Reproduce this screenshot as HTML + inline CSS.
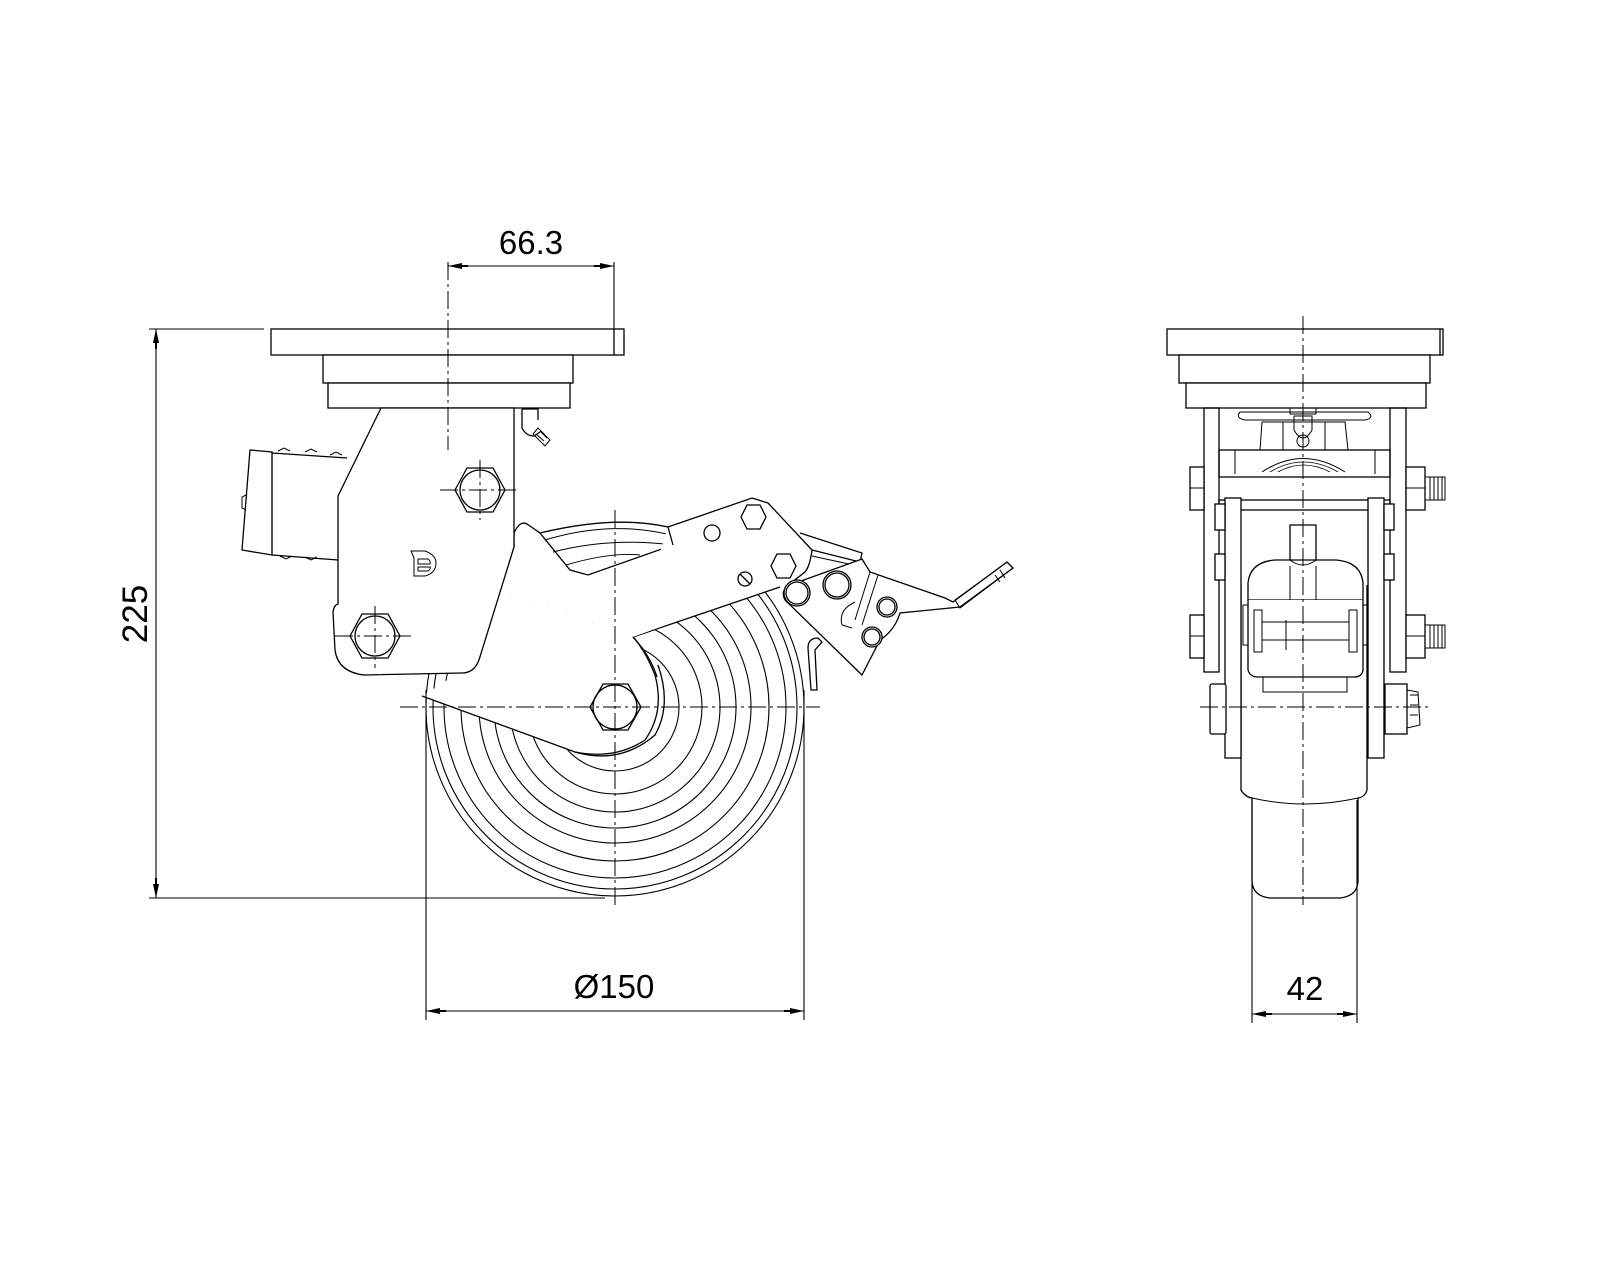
<!DOCTYPE html>
<html><head><meta charset="utf-8"><style>
html,body{margin:0;padding:0;background:#fff}
svg{display:block}
text{font-family:"Liberation Sans",sans-serif;fill:#000}
</style></head><body>
<svg width="1600" height="1280" viewBox="0 0 1600 1280" xmlns="http://www.w3.org/2000/svg">
<defs>
<marker id="ar" viewBox="0 0 20 8" refX="20" refY="4" markerWidth="20" markerHeight="8" orient="auto" markerUnits="userSpaceOnUse">
<path d="M0,3 L6,3 L6,1 L20,4 L6,7 L6,5 L0,5 Z" fill="#000"/></marker>
</defs>
<g fill="none" stroke="#000" stroke-width="1.3">

<g stroke-width="1.1">
<circle cx="615" cy="707" r="189"/><circle cx="615" cy="707" r="182"/><circle cx="615" cy="707" r="171"/>
<circle cx="615" cy="707" r="154"/><circle cx="615" cy="707" r="136"/><circle cx="615" cy="707" r="121"/>
<circle cx="615" cy="707" r="105"/><circle cx="615" cy="707" r="87"/><circle cx="615" cy="707" r="64"/>
</g>
<path d="M514,547 L500,590 L633,637 L780,587 L820,560 L800,470 L700,480 L514,510 Z" fill="#fff" stroke="none"/>
<path d="M479,660 L500,590 L633,637 L652,665 L662,705 L650,740 L615,757 L575,752 L422,696 Z" fill="#fff" stroke="none"/>
<path d="M422,696 L575,752 Q615,760 645,740 Q665,712 655,675 Q645,650 633,637"/>
<path d="M575,752 Q620,765 655,735 Q672,705 658,665"/>
<path d="M633,637 L780,587"/>
<path d="M633,637 Q650,655 657,677"/>
<path d="M514,547 L514,533 Q520,520 527,524 L540,533 L570,570 L588,575 L673,545 L668,527 Q615,515 540,533" fill="#fff"/>
<path d="M545,540 Q610,520 671,535 M553,552 Q610,537 673,545 M566,565 Q610,552 640,555" stroke-width="1"/>

<rect x="271" y="329" width="353" height="26" fill="#fff"/>
<line x1="614" y1="329" x2="614" y2="355"/>
<rect x="323" y="355" width="250" height="28" fill="#fff"/>
<rect x="328" y="383" width="242" height="25" fill="#fff"/>
<path d="M522,409 L522,428 Q526,436 534,436 L540,432 M522,409 L538,409 L538,420"/>
<path d="M538,428 L550,440 L545,446 L533,434 Z M540,431 L547,438 M536,434 L544,441" stroke-width="1"/>

<path d="M250,450 L272,452 L272,555 L242,550 Z" fill="#fff"/>
<path d="M272,453 L347,458 M272,555 L338,560"/>
<path d="M246,495 L242,497 L242,508 L246,510" stroke-width="1"/>
<path d="M278,451 l6,-3 l6,3 M305,452 l6,-3 l6,3 M330,455 l6,-3 l6,3 M280,556 l6,3 l6,-3 M305,557 l6,3 l6,-3" stroke-width="1"/>

<path d="M381,408 L514,408 L514,527 L514,547 L479,660 Q474,673 462,673 L364,675 Q338,672 335,650 L333,612 Q334,605 338,604 L338,496 Z" fill="#fff"/>
<polygon points="455,490 467,468 493,468 505,490 493,512 467,512" fill="#fff"/>
<circle cx="480" cy="490" r="20"/>
<polygon points="350,636 362,614 388,614 400,636 388,658 362,658" fill="#fff"/>
<circle cx="375" cy="636" r="20"/>
<path d="M411,551 L425,551 Q436,555 436,563 Q436,573 425,576 L414,576 L414,558 Z" stroke-width="1"/>
<path d="M418,559 L428,559 Q431,561 430,564 L418,564 Z M418,567 L430,567 Q431,569 428,571 L418,571 Z" stroke-width="1"/>

<polygon points="590,707 603,684 628,684 641,707 628,730 603,730" fill="#fff"/>
<circle cx="615" cy="707" r="22"/>

<path d="M668,527 L752,498 L768,503 L812,550 L807,572 L790,580 L633,637 Z" fill="#fff" stroke="none"/>
<path d="M668,527 L752,498 L768,503 L812,550 Q810,566 805,572 L792,582"/>
<path d="M673,545 L668,527"/>
<circle cx="712" cy="533" r="8"/>
<polygon points="741,517 747,505 760,505 766,517 760,529 747,529"/>
<polygon points="771,566 777,554 790,554 796,566 790,578 777,578"/>
<circle cx="745" cy="579" r="7"/><line x1="740" y1="574" x2="750" y2="584"/>
<path d="M800,533 L862,553 L860,562 L812,550" />
<path d="M812,556 L858,566" stroke-width="1"/>
<path d="M862,559 L870,572 L945,598 L953,602 L1007,562 L1013,568 L960,607 L930,610 L900,613 Q895,630 880,640 L862,675 L785,600 Q780,590 790,585 Z" fill="#fff"/>
<path d="M1007,562 L1013,568 L960,608 L955,600 Z" stroke-width="1"/>
<path d="M1000,570 L1005,578 M995,575 L1000,582" stroke-width="1"/>
<path d="M870,572 L855,620 M878,575 L862,625" stroke-width="1"/>
<path d="M855,602 Q838,610 842,625 L852,628" stroke-width="1"/>
<circle cx="797" cy="593" r="13" fill="#fff"/><circle cx="797" cy="593" r="11"/>
<circle cx="837" cy="585" r="14" fill="#fff"/><circle cx="837" cy="585" r="12"/>
<circle cx="887" cy="607" r="10" fill="#fff"/><circle cx="887" cy="607" r="8"/>
<circle cx="872" cy="637" r="10" fill="#fff"/><circle cx="872" cy="637" r="8"/>
<path d="M811,690 L808,648 Q808,638 818,638 L822,642 L815,650 L817,690 Z" fill="#fff"/>

<g stroke-width="1" stroke-dasharray="18,4,3,4">
<line x1="448" y1="262" x2="448" y2="450"/>
<line x1="615" y1="510" x2="615" y2="905"/>
<line x1="400" y1="707" x2="820" y2="707"/>
<line x1="440" y1="490" x2="520" y2="490"/>
<line x1="480" y1="460" x2="480" y2="520"/>
<line x1="335" y1="636" x2="412" y2="636"/>
<line x1="375" y1="606" x2="375" y2="668"/>
</g>

<g stroke-width="1.1">
<line x1="448" y1="262" x2="448" y2="270"/>
<line x1="614" y1="262" x2="614" y2="330"/>
<line x1="530" y1="266" x2="448" y2="266" marker-end="url(#ar)"/>
<line x1="530" y1="266" x2="614" y2="266" marker-end="url(#ar)"/>
<line x1="149" y1="329" x2="264" y2="329"/>
<line x1="149" y1="898" x2="605" y2="898"/>
<line x1="156" y1="614" x2="156" y2="329" marker-end="url(#ar)"/>
<line x1="156" y1="614" x2="156" y2="898" marker-end="url(#ar)"/>
<line x1="426" y1="690" x2="426" y2="1020"/>
<line x1="804" y1="690" x2="804" y2="1020"/>
<line x1="615" y1="1011" x2="426" y2="1011" marker-end="url(#ar)"/>
<line x1="615" y1="1011" x2="804" y2="1011" marker-end="url(#ar)"/>
</g>

<rect x="1167" y="329" width="276" height="26" fill="#fff"/>
<line x1="1440" y1="329" x2="1440" y2="355"/>
<rect x="1179" y="355" width="251" height="28" fill="#fff"/>
<rect x="1186" y="383" width="240" height="25" fill="#fff"/>
<path d="M1241,585 L1241,790 Q1245,797 1252,798 L1252,880 Q1252,896 1270,898 L1340,898 Q1358,896 1358,880 L1358,798 Q1365,797 1367,790 L1367,585"/>
<path d="M1252,798 Q1305,810 1358,798" stroke-width="1"/>
<rect x="1204" y="408" width="15" height="264"/>
<rect x="1390" y="408" width="16" height="264"/>
<path d="M1240,412 Q1235,418 1245,420 L1365,420 Q1375,418 1368,412 Z" stroke-width="1"/>
<path d="M1290,408 L1316,408 L1316,414 L1290,414 Z" stroke-width="1"/>
<path d="M1262,422 L1345,422 L1348,450 L1260,450 Z" stroke-width="1"/>
<path d="M1283,422 L1283,450 M1325,422 L1325,450" stroke-width="1"/>
<path d="M1294,416 L1312,416 L1312,430 Q1303,446 1294,430 Z" stroke-width="1"/>
<circle cx="1303" cy="441" r="6" stroke-width="1"/>
<rect x="1219" y="450" width="171" height="27"/>
<line x1="1235" y1="450" x2="1235" y2="474" stroke-width="1"/><line x1="1375" y1="450" x2="1375" y2="474" stroke-width="1"/>
<path d="M1262,472 Q1303,445 1345,472" stroke-width="1"/>
<path d="M1270,472 Q1303,452 1338,472 M1278,472 Q1303,458 1330,472" stroke-width="0.8"/>
<rect x="1219" y="500" width="171" height="10"/>
<rect x="1190" y="467" width="14" height="43" fill="#fff"/><line x1="1190" y1="488" x2="1204" y2="488" stroke-width="1"/>
<rect x="1190" y="615" width="14" height="43" fill="#fff"/><line x1="1190" y1="636" x2="1204" y2="636" stroke-width="1"/>
<rect x="1406" y="467" width="19" height="43" fill="#fff"/><line x1="1406" y1="488" x2="1425" y2="488" stroke-width="1"/>
<rect x="1406" y="615" width="19" height="43" fill="#fff"/><line x1="1406" y1="636" x2="1425" y2="636" stroke-width="1"/>
<path d="M1425,477 L1445,477 L1445,500 L1425,500 M1430,477 L1430,500 M1434,477 L1434,500 M1438,477 L1438,500 M1442,477 L1442,500" stroke-width="1"/>
<path d="M1425,625 L1445,625 L1445,648 L1425,648 M1430,625 L1430,648 M1434,625 L1434,648 M1438,625 L1438,648 M1442,625 L1442,648" stroke-width="1"/>
<rect x="1225" y="498" width="16" height="260" fill="#fff"/>
<rect x="1368" y="498" width="16" height="260" fill="#fff"/>
<rect x="1215" y="504" width="10" height="26" fill="#fff"/><rect x="1215" y="554" width="10" height="26" fill="#fff"/>
<rect x="1384" y="504" width="10" height="26" fill="#fff"/><rect x="1384" y="554" width="10" height="26" fill="#fff"/>
<path d="M1290,525 L1316,525 L1316,600 Q1303,610 1290,600 Z" fill="#fff"/>
<path d="M1248,583 Q1250,562 1275,560 L1336,560 Q1361,562 1363,583 L1363,600 L1248,600 Z" fill="#fff"/>
<path d="M1290,560 Q1303,570 1316,560" stroke-width="1"/>
<path d="M1290,566 L1290,600 Q1303,608 1316,600 L1316,566" stroke-width="1"/>
<path d="M1248,600 L1248,670 Q1250,677 1258,677 L1354,677 Q1362,677 1363,670 L1363,600" fill="#fff"/>
<rect x="1254" y="610" width="8" height="42" stroke-width="1"/>
<rect x="1349" y="610" width="8" height="42" stroke-width="1"/>
<line x1="1262" y1="622" x2="1349" y2="622" stroke-width="1"/>
<line x1="1262" y1="640" x2="1349" y2="640" stroke-width="1"/>
<line x1="1286" y1="620" x2="1286" y2="650" stroke-width="1"/>
<rect x="1263" y="677" width="84" height="15" stroke-width="1"/>
<rect x="1243" y="605" width="5" height="40" stroke-width="1"/><rect x="1363" y="605" width="5" height="40" stroke-width="1"/>
<rect x="1210" y="684" width="16" height="50" fill="#fff" rx="2"/>
<rect x="1385" y="684" width="22" height="50" fill="#fff"/>
<path d="M1407,690 L1418,692 L1420,725 L1407,728 Z M1410,695 L1418,695 M1410,705 L1418,705 M1410,715 L1418,715" stroke-width="1"/>

<g stroke-width="1" stroke-dasharray="18,4,3,4">
<line x1="1303" y1="316" x2="1303" y2="905"/>
<line x1="1200" y1="707" x2="1432" y2="707"/>
</g>
<g stroke-width="1.1">
<line x1="1252" y1="800" x2="1252" y2="1023"/>
<line x1="1357" y1="800" x2="1357" y2="1023"/>
<line x1="1305" y1="1014" x2="1252" y2="1014" marker-end="url(#ar)"/>
<line x1="1305" y1="1014" x2="1357" y2="1014" marker-end="url(#ar)"/>
</g>
</g>

<text x="531" y="254" font-size="33" text-anchor="middle">66.3</text>
<text x="614" y="998" font-size="33" text-anchor="middle">Ø150</text>
<text x="1305" y="1000" font-size="33" text-anchor="middle">42</text>
<text x="0" y="0" font-size="35" text-anchor="middle" transform="translate(147,614) rotate(-90)">225</text>
</svg>
</body></html>
